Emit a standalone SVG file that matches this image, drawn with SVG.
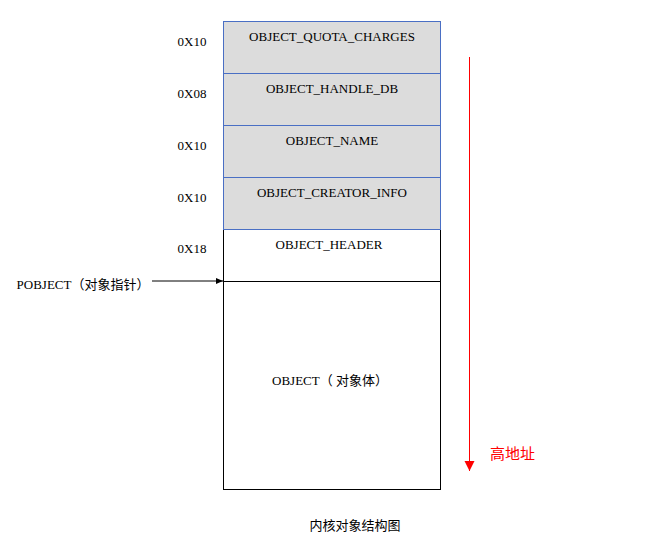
<svg xmlns="http://www.w3.org/2000/svg" width="649" height="540" viewBox="0 0 649 540">
<style>
.t{font-family:"Liberation Serif","Noto Sans CJK SC",serif;font-size:13px;fill:#000;text-anchor:middle}
.l{font-family:"Liberation Serif",serif;font-size:13px;fill:#000;text-anchor:middle}
.g{fill:#dcdcdc;stroke:#4a6fc4;stroke-width:1}
.w{fill:#fff;stroke:#000;stroke-width:1}
</style>
<defs>
<marker id="ab" markerWidth="8" markerHeight="8" refX="7" refY="4" orient="auto" markerUnits="userSpaceOnUse"><path d="M0,1 L7,4 L0,7z" fill="#000"/></marker>
<marker id="ar" markerWidth="12" markerHeight="12" refX="10" refY="6" orient="auto" markerUnits="userSpaceOnUse"><path d="M0,1 L10,6 L0,11z" fill="#f00"/></marker>
</defs>
<rect width="649" height="540" fill="#fff"/>
<g id="body"><rect class="w" x="223.5" y="229.5" width="217" height="260"/><line x1="223" y1="281.5" x2="441" y2="281.5" stroke="#000"/><text class="t" x="329" y="249">OBJECT_HEADER</text><text class="t" x="330" y="385">OBJECT（ 对象体）</text></g>
<g id="quota"><rect class="g" x="223.5" y="21.5" width="217" height="52"/><text class="t" x="332" y="41">OBJECT_QUOTA_CHARGES</text></g>
<g id="handle"><rect class="g" x="223.5" y="73.5" width="217" height="52"/><text class="t" x="332" y="93">OBJECT_HANDLE_DB</text></g>
<g id="name"><rect class="g" x="223.5" y="125.5" width="217" height="52"/><text class="t" x="332" y="145">OBJECT_NAME</text></g>
<g id="creator"><rect class="g" x="223.5" y="177.5" width="217" height="52"/><text class="t" x="332" y="197">OBJECT_CREATOR_INFO</text></g>
<g id="sizes"><text class="l" x="192" y="46">0X10</text><text class="l" x="192" y="98">0X08</text><text class="l" x="192" y="150">0X10</text><text class="l" x="192" y="202">0X10</text><text class="l" x="192" y="253">0X18</text></g>
<g id="labels"><text class="t" x="83" y="289">POBJECT（对象指针）</text><text x="490" y="459" font-family="Noto Sans CJK SC,sans-serif" font-size="15" fill="#f00">高地址</text><text class="t" x="355" y="530" font-size="14">内核对象结构图</text></g>
<g id="connectors">
<line x1="152" y1="281" x2="223" y2="281" stroke="#000" marker-end="url(#ab)"/>
<line x1="469.5" y1="57" x2="469.5" y2="471" stroke="#f00" marker-end="url(#ar)"/>
</g>
</svg>
